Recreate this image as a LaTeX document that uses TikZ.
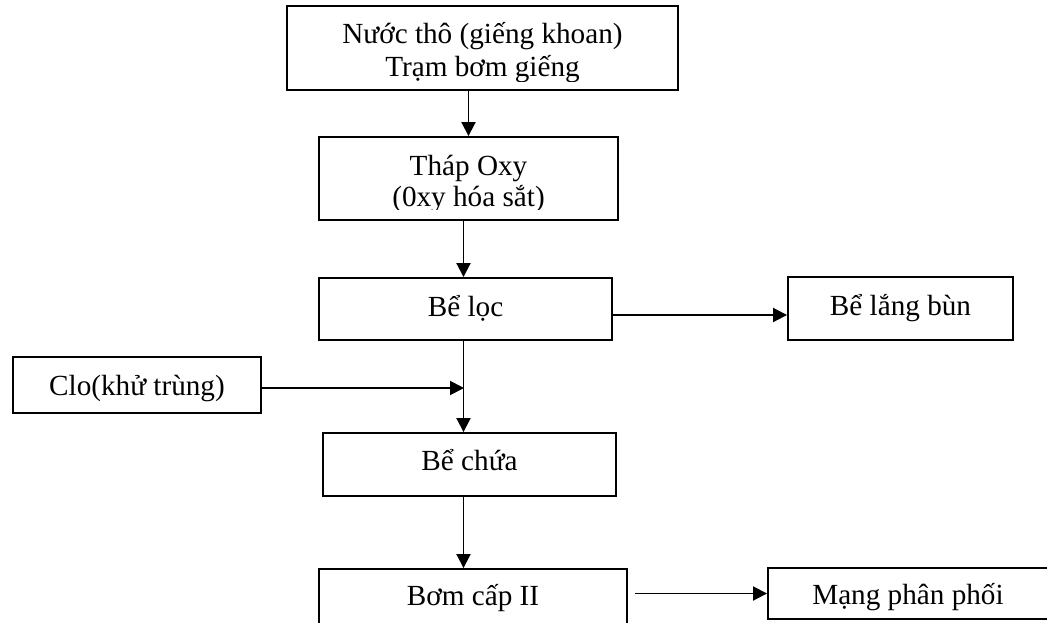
\documentclass[tikz,border=0pt]{standalone}
\usepackage{fontspec}
\setmainfont{Liberation Serif}
\usetikzlibrary{arrows.meta}

\tikzset{
  txt/.style={font=\fontsize{29.2pt}{33pt}\selectfont},
  lbl/.style={txt, inner sep=0pt, draw=none, fill=none},
  box/.style={txt, draw, line width=1.9pt, inner sep=0pt,
              text height=20pt, text depth=6pt},
  arr/.style={line width=1.9pt, -{Triangle[length=14pt,width=14pt]}},
}

\begin{document}
\begin{tikzpicture}[x=1pt, y=-1pt]
  \useasboundingbox (0,0) rectangle (1047,622);

  % vertical line carrying the main flow
  \coordinate (trunk) at (463.5,0);

  % two-line boxes: text is cut off at the lower edge of the text area
  \node[box, minimum width=391pt, minimum height=84pt] (src) at (482.5,48) {};
  \begin{scope}
    \clip ([yshift=9.9pt]src.south west) rectangle (src.north east);
    \node[lbl, anchor=base] (srcA) at ([yshift=-38pt]src.north) {Nước thô (giếng khoan)};
    \node[lbl, anchor=base] (srcB) at ([yshift=-71.4pt]src.north) {Trạm bơm giếng};
  \end{scope}

  \node[box, minimum width=299pt, minimum height=83pt] (oxy) at (468.5,178.5) {};
  \begin{scope}
    \clip ([yshift=11.6pt]oxy.south west) rectangle (oxy.north east);
    \node[lbl, anchor=base] (oxyA) at ([yshift=-39.5pt]oxy.north) {Tháp Oxy};
    \node[lbl, anchor=base] (oxyB) at ([yshift=-70.4pt]oxy.north) {(0xy hóa sắt)};
  \end{scope}

  % single-line boxes
  \node[box, minimum width=293pt, minimum height=62pt] (loc) at (465.5,309) {Bể lọc};
  \node[box, minimum width=225pt, minimum height=63pt, text height=19.5pt, text depth=6.5pt]
       (lang) at (900.5,308.5) {Bể lắng bùn};
  \node[box, minimum width=248pt, minimum height=56pt, text height=23pt, text depth=3pt]
       (clo) at (137,385) {Clo(khử trùng)};
  \node[box, minimum width=293pt, minimum height=63pt, text height=19pt, text depth=7pt]
       (chua) at (469.5,464.5) {Bể chứa};
  \node[box, minimum width=308pt, minimum height=58pt] (bom) at (473,598) {Bơm cấp II};
  \node[box, minimum width=280pt, minimum height=51pt, text height=24pt, text depth=3pt]
       (mang) at (908,593.5) {Mạng phân phối};

  % connectors
  \draw[arr] (oxy.north |- src.south) -- (oxy.north);
  \draw[arr] (trunk |- oxy.south) -- (trunk |- loc.north);
  \draw[arr] ([yshift=-6pt]loc.east) -- ([yshift=-6pt]loc.east -| lang.west);
  \draw[arr] (trunk |- loc.south) -- (trunk |- chua.north);
  \draw[arr] ([yshift=-3pt]clo.east) -- ([yshift=-3pt,xshift=0.5pt]clo.east -| trunk);
  \draw[arr] (trunk |- chua.south) -- (trunk |- bom.north);
  \draw[arr] ([xshift=7pt]bom.east |- mang.west) -- (mang.west);
\end{tikzpicture}
\end{document}
